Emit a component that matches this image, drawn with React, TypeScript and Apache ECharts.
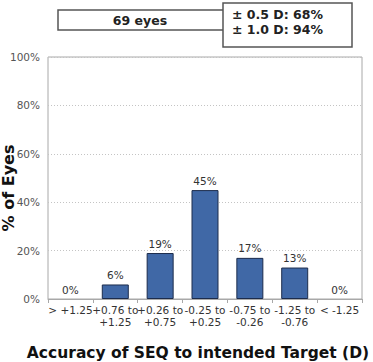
import React, { useEffect, useRef } from "react";
import * as echarts from "echarts";

const categories = [
  "> +1.25",
  "+0.76 to\n+1.25",
  "+0.26 to\n+0.75",
  "-0.25 to\n+0.25",
  "-0.75 to\n-0.26",
  "-1.25 to\n-0.76",
  "< -1.25",
];
const percentEyes = [0, 6, 19, 45, 17, 13, 0];
const yTicks = { min: 0, max: 100, interval: 20 };
const eyesLabel = "69 eyes";
const accuracyLines = ["± 0.5 D: 68%", "± 1.0 D: 94%"];
const xTitle = "Accuracy of SEQ to intended Target (D)";
const yTitle = "% of Eyes";

const FONT = "DejaVu Sans";

export default function App() {
  const ref = useRef<HTMLDivElement>(null);
  useEffect(() => {
    document.body.style.margin = "0";
    if (!ref.current) return;
    const chart = echarts.init(ref.current, null, { renderer: "svg" });
    chart.setOption({
      animation: false,
      backgroundColor: "#ffffff",
      textStyle: { fontFamily: FONT },
      grid: {
        left: 48,
        right: 11,
        top: 57,
        bottom: 63,
        show: true,
        borderColor: "#a8a8a8",
        borderWidth: 1,
        backgroundColor: "transparent",
      },
      xAxis: {
        type: "category",
        data: categories,
        axisLine: { show: true, lineStyle: { color: "#a8a8a8", width: 1 } },
        axisTick: { show: true, length: 4, lineStyle: { color: "#a8a8a8" } },
        axisLabel: {
          fontFamily: FONT,
          fontSize: 10.5,
          color: "#333",
          lineHeight: 12,
          margin: 5,
          interval: 0,
        },
      },
      yAxis: {
        type: "value",
        min: yTicks.min,
        max: yTicks.max,
        interval: yTicks.interval,
        axisLine: { show: false },
        axisTick: { show: false },
        axisLabel: {
          formatter: "{value}%",
          fontFamily: FONT,
          fontSize: 10.5,
          color: "#555",
          margin: 8,
        },
        splitLine: {
          show: true,
          lineStyle: { color: "#c4c4c4", type: [1, 2], width: 1 },
        },
      },
      series: [
        {
          type: "bar",
          data: percentEyes.map((v) =>
            v === 0 ? { value: v, itemStyle: { borderWidth: 0 } } : v
          ),
          barWidth: 27,
          itemStyle: {
            color: "#4068a6",
            borderColor: "#1c2c4c",
            borderWidth: 1,
          },
          label: {
            show: true,
            position: "top",
            formatter: "{c}%",
            fontFamily: FONT,
            fontSize: 10.5,
            color: "#333",
            distance: 4,
          },
        },
      ],
      graphic: [
        {
          type: "rect",
          shape: { x: 58, y: 10, width: 170, height: 20 },
          style: { fill: "#fff", stroke: "#555", lineWidth: 1.5 },
        },
        {
          type: "text",
          x: 140,
          y: 20,
          style: {
            text: eyesLabel,
            fontFamily: FONT,
            fontSize: 12.5,
            fontWeight: "bold",
            fill: "#222",
            align: "center",
            verticalAlign: "middle",
          },
        },
        {
          type: "rect",
          shape: { x: 223, y: 3, width: 129, height: 44 },
          style: { fill: "#fff", stroke: "#555", lineWidth: 1.5 },
        },
        {
          type: "text",
          x: 232,
          y: 14,
          style: {
            text: accuracyLines[0],
            fontFamily: FONT,
            fontSize: 12.5,
            fontWeight: "bold",
            fill: "#222",
            align: "left",
            verticalAlign: "middle",
          },
        },
        {
          type: "text",
          x: 232,
          y: 29,
          style: {
            text: accuracyLines[1],
            fontFamily: FONT,
            fontSize: 12.5,
            fontWeight: "bold",
            fill: "#222",
            align: "left",
            verticalAlign: "middle",
          },
        },
        {
          type: "text",
          x: 8,
          y: 188,
          rotation: Math.PI / 2,
          style: {
            text: yTitle,
            fontFamily: FONT,
            fontSize: 16,
            fontWeight: "bold",
            fill: "#111",
            align: "center",
            verticalAlign: "middle",
          },
        },
        {
          type: "text",
          x: 198,
          y: 353,
          style: {
            text: xTitle,
            fontFamily: FONT,
            fontSize: 15.5,
            fontWeight: "bold",
            fill: "#111",
            align: "center",
            verticalAlign: "middle",
          },
        },
      ],
    });
    return () => chart.dispose();
  }, []);
  return <div ref={ref} style={{ width: 373, height: 362 }} />;
}
